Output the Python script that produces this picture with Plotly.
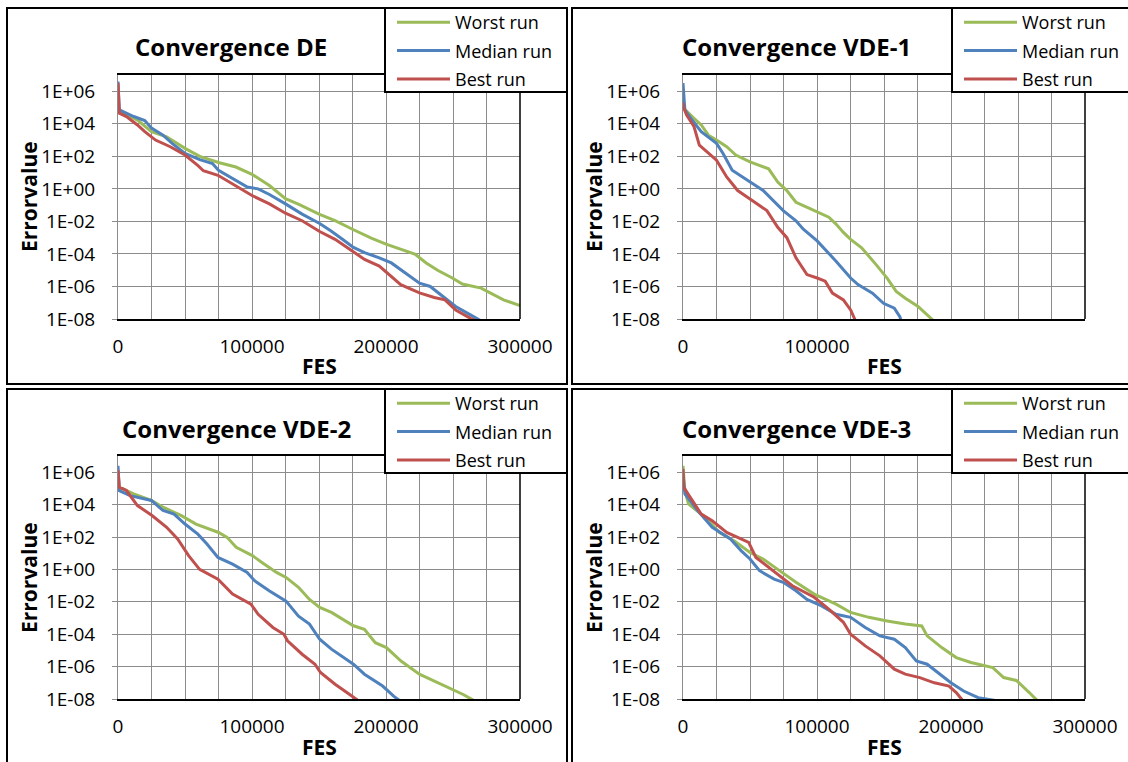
import plotly.graph_objects as go

W, H = 1128, 762
FONT = "Open Sans"

GREEN = "#9BBB59"
BLUE = "#4F81BD"
RED = "#C0504D"
GRID = "#8C8C8C"

# ---------------- data: error value vs. function evaluations ----------------
# DE
de_worst_fes = [0, 14500, 25000, 36300, 50000, 61000, 75000, 88000, 100000, 113000, 125000, 135000,
                150000, 162000, 175000, 189000, 200000, 211000, 222000, 230000, 238500, 249500,
                257000, 271000, 279500, 287700, 300000]
de_worst_err = [7.2e4, 1.7e4, 3.3e3, 1.6e3, 3.1e2, 1.0e2, 4.2e1, 2.2e1, 7.9, 1.6, 2.5e-1, 1.1e-1,
                2.8e-2, 1.1e-2, 3.3e-3, 9.3e-4, 4.0e-4, 1.9e-4, 9.3e-5, 2.8e-5, 1.0e-5, 3.3e-6,
                1.4e-6, 7.9e-7, 3.2e-7, 1.5e-7, 6.8e-8]
de_median_fes = [0, 1000, 11750, 20000, 25000, 33600, 40400, 50000, 61000, 70500, 75000, 88000,
                 96500, 104600, 113000, 125000, 137400, 150500, 159000, 167500, 175700, 184000,
                 195000, 204000, 214000, 225000, 233000, 242600, 252000, 263000, 272700]
de_median_err = [4.0e6, 7.2e4, 2.8e4, 1.6e4, 5.4e3, 2.0e3, 6.3e2, 1.5e2, 6.3e1, 3.6e1, 1.4e1, 3.3,
                 1.3, 1.0, 4.5e-1, 1.2e-1, 2.8e-2, 7.4e-3, 2.6e-3, 7.9e-4, 2.5e-4, 1.2e-4,
                 5.8e-5, 2.8e-5, 6.8e-6, 1.6e-6, 1.0e-6, 2.5e-7, 5.9e-8, 1.8e-8, 6.3e-9]
de_best_fes = [0, 1000, 6300, 14500, 20000, 28000, 39000, 50000, 59500, 63700, 74600, 85500,
               100000, 113000, 125000, 137400, 150500, 162000, 173000, 184000, 195000, 204000,
               211000, 225000, 236000, 244000, 252000, 263000, 268500]
de_best_err = [3.2e6, 4.5e4, 2.8e4, 8.5e3, 3.3e3, 1.0e3, 3.9e2, 1.2e2, 2.8e1, 1.3e1, 6.8, 2.0,
               3.9e-1, 1.2e-1, 3.2e-2, 1.1e-2, 2.4e-3, 7.9e-4, 1.9e-4, 4.6e-5, 1.8e-5, 4.3e-6,
               1.3e-6, 4.0e-7, 2.1e-7, 1.5e-7, 3.6e-8, 1.1e-8, 6.9e-9]

# VDE-1
v1_worst_fes = [0, 2700, 8200, 13600, 19000, 25000, 32600, 39400, 50000, 63900, 70700, 77500,
                84300, 95200, 108800, 114200, 119700, 125100, 133300, 144100, 152300, 159100,
                165900, 175400, 187700]
v1_worst_err = [1.0e5, 5.8e4, 2.2e4, 8.5e3, 2.0e3, 1.0e3, 3.9e2, 1.2e2, 4.6e1, 1.7e1, 2.6, 7.9e-1,
                1.5e-1, 5.8e-2, 1.8e-2, 6.8e-3, 2.1e-3, 7.9e-4, 2.4e-4, 2.2e-5, 3.3e-6, 5.0e-7,
                1.9e-7, 5.9e-8, 6.9e-9]
v1_median_fes = [0, 1400, 6800, 13600, 25000, 29900, 36700, 50000, 59800, 74800, 84300, 89800,
                 100100, 114200, 125100, 130600, 141400, 149600, 157700, 161800, 163200]
v1_median_err = [3.2e6, 7.2e4, 1.7e4, 3.3e3, 6.3e2, 1.5e2, 1.4e1, 2.6, 7.9e-1, 4.6e-2, 1.1e-2,
                 3.3e-3, 6.3e-4, 3.6e-5, 3.3e-6, 1.3e-6, 3.9e-7, 9.3e-8, 4.6e-8, 1.4e-8, 6.3e-9]
v1_best_fes = [0, 500, 2700, 8200, 12200, 19000, 25000, 32600, 40800, 50000, 62600, 70700, 77500,
               84300, 92500, 100100, 106100, 111500, 119700, 125100, 129200]
v1_best_err = [2.0e5, 1.0e5, 3.5e4, 6.8e3, 4.9e2, 1.5e2, 5.8e1, 5.4, 7.9e-1, 2.4e-1, 4.6e-2,
               4.3e-3, 1.0e-3, 5.8e-5, 5.4e-6, 3.3e-6, 2.1e-6, 3.9e-7, 1.5e-7, 3.6e-8, 6.3e-9]

# VDE-2
v2_worst_fes = [0, 1000, 11700, 24900, 33600, 47300, 58200, 75100, 81400, 88200, 100300, 107400,
                118300, 125400, 134700, 142900, 150500, 159300, 167500, 175700, 183900, 192000,
                200300, 211200, 224900, 238500, 249500, 257600, 268000]
v2_worst_err = [1.3e5, 1.2e5, 4.6e4, 1.8e4, 6.9e3, 2.1e3, 6.3e2, 1.9e2, 9.5e1, 2.3e1, 7.1, 2.7,
                6.5e-1, 3.2e-1, 7.8e-2, 1.4e-2, 4.5e-3, 2.2e-3, 8.5e-4, 3.3e-4, 2.0e-4, 3.0e-5,
                1.5e-5, 2.2e-6, 3.4e-7, 1.0e-7, 4.0e-8, 1.9e-8, 6.3e-9]
v2_median_fes = [0, 1000, 9000, 19900, 24900, 33600, 41800, 50000, 59600, 66400, 74600, 85500,
                 96400, 101900, 112800, 125400, 134700, 142900, 150500, 159300, 175700, 183900,
                 197500, 205700, 211200]
v2_median_err = [2.5e6, 7.2e4, 3.6e4, 2.2e4, 1.8e4, 4.3e3, 2.6e3, 6.3e2, 1.5e2, 3.7e1, 5.5, 2.1,
                 6.5e-1, 2.0e-1, 4.8e-2, 1.1e-2, 1.3e-3, 4.2e-4, 4.9e-5, 1.2e-5, 1.4e-6, 3.4e-7,
                 6.3e-8, 1.5e-8, 6.9e-9]
v2_best_fes = [0, 1000, 6300, 14500, 25400, 36300, 44500, 52700, 60900, 74600, 85500, 99200,
               104600, 115600, 123800, 126500, 137400, 147000, 151100, 162000, 172900, 181000]
v2_best_err = [1.3e6, 1.2e5, 7.4e4, 8.7e3, 2.1e3, 4.0e2, 7.6e1, 7.1, 1.0, 2.5e-1, 3.0e-2, 7.2e-3,
               1.7e-3, 2.6e-4, 1.0e-4, 3.9e-5, 5.8e-6, 1.4e-6, 4.3e-7, 8.1e-8, 1.9e-8, 6.3e-9]

# VDE-3
v3_worst_fes = [0, 1400, 4100, 16300, 27200, 38100, 50000, 59800, 70700, 84300, 97900, 114200,
                125100, 138700, 152300, 165900, 178200, 182200, 193100, 203900, 214900, 231200,
                239300, 248800, 258400, 265200]
v3_worst_err = [2.5e6, 7.2e4, 1.1e4, 1.7e3, 1.9e2, 5.9e1, 1.1e1, 4.4, 1.0, 1.6e-1, 3.0e-2, 7.2e-3,
                2.2e-3, 1.1e-3, 6.6e-4, 4.2e-4, 3.2e-4, 7.9e-5, 1.5e-5, 3.6e-6, 1.8e-6, 8.7e-7,
                2.1e-7, 1.4e-7, 2.5e-8, 6.9e-9]
v3_median_fes = [0, 1400, 10900, 21800, 35400, 43500, 50000, 57100, 68000, 74800, 84300, 92500,
                 103400, 114200, 125100, 136000, 146900, 157700, 165900, 174100, 182200, 193100,
                 199900, 209400, 220300, 233900]
v3_median_err = [7.9e5, 4.6e4, 4.3e3, 4.0e2, 7.6e1, 1.4e1, 4.4, 8.3e-1, 2.5e-1, 1.6e-1, 4.8e-2,
                 1.4e-2, 5.6e-3, 1.7e-3, 1.1e-3, 2.6e-4, 7.9e-5, 4.9e-5, 1.5e-5, 2.2e-6, 1.4e-6,
                 2.6e-7, 1.0e-7, 3.1e-8, 1.2e-8, 7.9e-9]
v3_best_fes = [0, 500, 5400, 13600, 21800, 32600, 40800, 49000, 54400, 70700, 81600, 97900,
               108800, 119700, 125100, 136000, 146900, 157700, 165900, 176700, 187600, 198500,
               203900, 209400]
v3_best_err = [1.6e6, 1.2e5, 2.8e4, 2.6e3, 1.0e3, 1.9e2, 9.5e1, 4.7e1, 5.5, 5.1e-1, 9.8e-2,
               1.9e-2, 3.5e-3, 5.4e-4, 1.0e-4, 1.9e-5, 4.6e-6, 6.9e-7, 3.4e-7, 2.1e-7, 1.0e-7,
               6.3e-8, 2.5e-8, 6.9e-9]

panel_titles = ["Convergence DE", "Convergence VDE-1", "Convergence VDE-2", "Convergence VDE-3"]
run_names = ["Worst run", "Median run", "Best run"]
y_tick_vals = [1e6, 1e4, 1e2, 1e0, 1e-2, 1e-4, 1e-6, 1e-8]
y_tick_text = ["1E+06", "1E+04", "1E+02", "1E+00", "1E-02", "1E-04", "1E-06", "1E-08"]
x_grid_vals = [0, 25000, 50000, 75000, 100000, 125000, 150000, 175000, 200000,
               225000, 250000, 275000, 300000]
x_labels_full = ["0", "", "", "", "100000", "", "", "", "200000", "", "", "", "300000"]
x_labels_short = ["0", "", "", "", "100000", "", "", "", "", "", "", "", ""]

panels = [
    [(de_worst_fes, de_worst_err), (de_median_fes, de_median_err), (de_best_fes, de_best_err)],
    [(v1_worst_fes, v1_worst_err), (v1_median_fes, v1_median_err), (v1_best_fes, v1_best_err)],
    [(v2_worst_fes, v2_worst_err), (v2_median_fes, v2_median_err), (v2_best_fes, v2_best_err)],
    [(v3_worst_fes, v3_worst_err), (v3_median_fes, v3_median_err), (v3_best_fes, v3_best_err)],
]
x_labels = [x_labels_full, x_labels_short, x_labels_full, x_labels_full]
colors = [GREEN, BLUE, RED]


def px(x):
    return x / W


def py(y):
    return 1 - y / H


# layout geometry in pixels: (plot-left, plot-right, plot-top, plot-bottom, panel offset x, offset y)
geo = [
    (118, 520, 75, 319, 0, 0),
    (683, 1085, 75, 319, 565, 0),
    (118, 520, 456, 699, 0, 381),
    (683, 1085, 456, 699, 565, 381),
]

fig = go.Figure()
shapes = []
annotations = []
layout_axes = {}

for i, (series, title) in enumerate(zip(panels, panel_titles)):
    n = "" if i == 0 else str(i + 1)
    xa, ya = "x" + n, "y" + n
    leg = "legend" + n
    l, r, t, b, ox, oy = geo[i]

    for (fes, err), name, col in zip(series, run_names, colors):
        fig.add_trace(go.Scatter(
            x=fes, y=err, mode="lines", name=name,
            line=dict(color=col, width=3),
            xaxis=xa, yaxis=ya, legend=leg,
            legendgroup=f"{name}-{i}",
        ))

    layout_axes["xaxis" + n] = dict(
        domain=[px(l), px(r)], anchor=ya, range=[0, 300000],
        tickmode="array", tickvals=x_grid_vals, ticktext=x_labels[i],
        ticks="", showgrid=True, gridcolor=GRID, gridwidth=1, zeroline=False,
        showline=True, linecolor="black", linewidth=1.5, mirror=True,
        tickfont=dict(family=FONT, size=19, color="black"), ticklabelstandoff=9,
        fixedrange=True,
    )
    layout_axes["yaxis" + n] = dict(
        domain=[py(b), py(t)], anchor=xa, type="log", range=[-8, 7],
        tickmode="array", tickvals=y_tick_vals, ticktext=y_tick_text,
        ticks="outside", ticklen=5, tickcolor=GRID, tickwidth=1,
        showgrid=True, gridcolor=GRID, gridwidth=1, zeroline=False,
        showline=True, linecolor=GRID, linewidth=1,
        tickfont=dict(family=FONT, size=19, color="black"), ticklabelstandoff=13,
        fixedrange=True,
    )

    # right edge of the plot area
    shapes.append(dict(type="line", xref=xa + " domain", yref=ya + " domain",
                       x0=1, x1=1, y0=0, y1=1, line=dict(color="black", width=1.5)))

    # panel frame
    shapes.append(dict(type="rect", xref="paper", yref="paper",
                       x0=px(7 + ox), x1=px(567 + ox + (10 if ox else 0)),
                       y0=py(384 + oy + (10 if oy else 0)), y1=py(8 + oy),
                       line=dict(color="black", width=2), layer="above"))

    # legend frame
    shapes.append(dict(type="rect", xref="paper", yref="paper",
                       x0=px(385 + ox + (2 if ox else 0)), x1=px(567 + ox + (10 if ox else 0)),
                       y0=py(92 + oy), y1=py(8 + oy),
                       line=dict(color="black", width=2), fillcolor="white", layer="above"))

    layout_axes[leg] = dict(
        xref="container", yref="container",
        x=px(392 + ox + (2 if ox else 0)), y=py(4 + oy), xanchor="left", yanchor="top",
        bgcolor="rgba(0,0,0,0)", borderwidth=0, itemwidth=53, tracegroupgap=2,
        font=dict(family=FONT, size=18, color="black"),
    )

    cx = (l + r) / 2
    annotations.append(dict(text=title, xref="paper", yref="paper",
                            x=px(cx - 88 + (5 if i == 2 else 0)), y=py(47 + oy),
                            showarrow=False, xanchor="center", yanchor="middle",
                            font=dict(family=FONT, size=24, color="black", weight="bold")))
    annotations.append(dict(text="FES", xref="paper", yref="paper",
                            x=px(cx), y=py(366 + oy),
                            showarrow=False, xanchor="center", yanchor="middle",
                            font=dict(family=FONT, size=21, color="black", weight="bold")))
    annotations.append(dict(text="Errorvalue", xref="paper", yref="paper",
                            x=px(29 + ox), y=py(197 + oy), textangle=-90,
                            showarrow=False, xanchor="center", yanchor="middle",
                            font=dict(family=FONT, size=21, color="black", weight="bold")))

fig.update_layout(
    width=W, height=H,
    margin=dict(l=0, r=0, t=0, b=0, autoexpand=False),
    paper_bgcolor="white", plot_bgcolor="white",
    showlegend=True,
    shapes=shapes, annotations=annotations,
    **layout_axes,
)

fig.write_html("out.html", config={"displayModeBar": False})
